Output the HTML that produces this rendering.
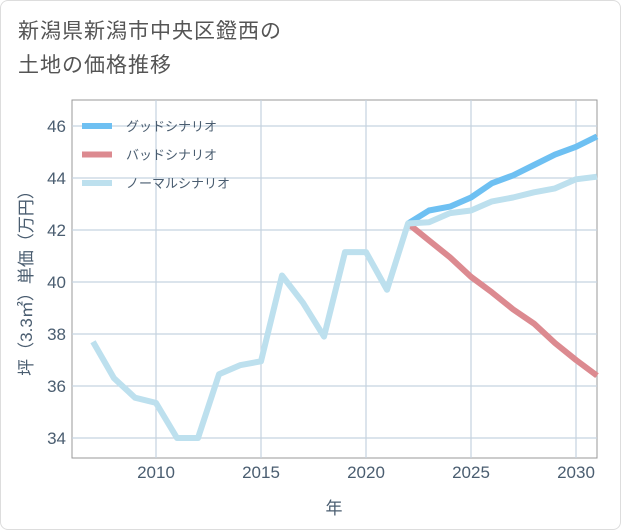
<!DOCTYPE html>
<html><head><meta charset="utf-8"><style>
body{margin:0;background:#fff;font-family:"Liberation Sans","Noto Sans CJK JP",sans-serif;}
#wrap{position:relative;width:619px;height:528px;border:1px solid #ddd;border-radius:8px;overflow:hidden;background:#fff;}
#title{position:absolute;left:17px;top:14px;font-size:21px;line-height:34px;color:#555;letter-spacing:1px;}
</style></head><body>
<div id="wrap">
<div id="title">新潟県新潟市中央区鐙西の<br>土地の価格推移</div>
<svg id="chart" width="621" height="530" style="position:absolute;left:-1px;top:-1px"></svg>
</div>
<script>
const years=[2007,2008,2009,2010,2011,2012,2013,2014,2015,2016,2017,2018,2019,2020,2021,2022,2023,2024,2025,2026,2027,2028,2029,2030,2031];
const normalVals=[37.7,36.3,35.55,35.35,34,34,36.45,36.8,36.95,40.25,39.2,37.9,41.15,41.15,39.7,42.25,42.3,42.65,42.75,43.1,43.25,43.45,43.6,43.95,44.05];
const futureYears=[2022,2023,2024,2025,2026,2027,2028,2029,2030,2031];
const goodVals=[42.25,42.75,42.9,43.25,43.8,44.1,44.5,44.9,45.2,45.6];
const badVals=[42.25,41.6,40.95,40.2,39.6,38.95,38.4,37.65,37.0,36.4];
const yTicks=[34,36,38,40,42,44,46];
const xTicks=[2010,2015,2020,2025,2030];
const legendLabels=["グッドシナリオ","バッドシナリオ","ノーマルシナリオ"];
const NS="http://www.w3.org/2000/svg";
const svg=document.getElementById('chart');
const L=72,R=597,T=100,B=458;
const xs=y=>156+(y-2010)*21;
const ys=v=>438-(v-34)*26;
function el(t,a){const e=document.createElementNS(NS,t);for(const k in a)e.setAttribute(k,a[k]);svg.appendChild(e);return e;}
const bg=el('rect',{x:L,y:T,width:R-L,height:B-T,fill:'#fff',stroke:'#999'});


yTicks.forEach(v=>{
 const g=el('line',{x1:L,x2:R,y1:ys(v),y2:ys(v),stroke:'#c5d3e0','stroke-width':1.2});
 
 
 const t=el('text',{x:L-6,y:ys(v)+6,'text-anchor':'end','font-size':17,fill:'#4a5d70'});
 t.textContent=v;
 
 
});
xTicks.forEach(v=>{
 const g=el('line',{x1:xs(v),x2:xs(v),y1:T,y2:B,stroke:'#c5d3e0','stroke-width':1.2});
 
 
 const t=el('text',{x:xs(v),y:B+20,'text-anchor':'middle','font-size':17,fill:'#4a5d70'});
 t.textContent=v;
 
 
});
const xt=el('text',{x:334,y:514,'text-anchor':'middle','font-size':17,fill:'#4a5d70'});
xt.textContent='年';


const yt=el('text',{x:0,y:0,'text-anchor':'middle','font-size':17,fill:'#4a5d70',transform:'translate(32,279) rotate(-90)'});
yt.textContent='坪（3.3㎡）単価（万円）';


function line(xv,yv,color,name){
 const p=el('polyline',{points:xv.map((x,i)=>xs(x)+','+ys(yv[i])).join(' '),fill:'none',stroke:color,'stroke-width':6,'stroke-linejoin':'round'});
 
 
}
line(futureYears,badVals,'#dc8a90','bad-scenario-line');
line(futureYears,goodVals,'#6ec0f2','good-scenario-line');
line(years,normalVals,'#bde0ee','normal-scenario-line');
const colors=['#6ec0f2','#dc8a90','#bde0ee'];
legendLabels.forEach((s,i)=>{
 const y=126+i*28.5;
 const l=el('line',{x1:82,x2:112,y1:y,y2:y,stroke:colors[i],'stroke-width':6});
 
 
 const t=el('text',{x:126,y:y+5,'font-size':13,fill:'#4a5d70'});
 t.textContent=s;
 
 
});
</script>
</body></html>
